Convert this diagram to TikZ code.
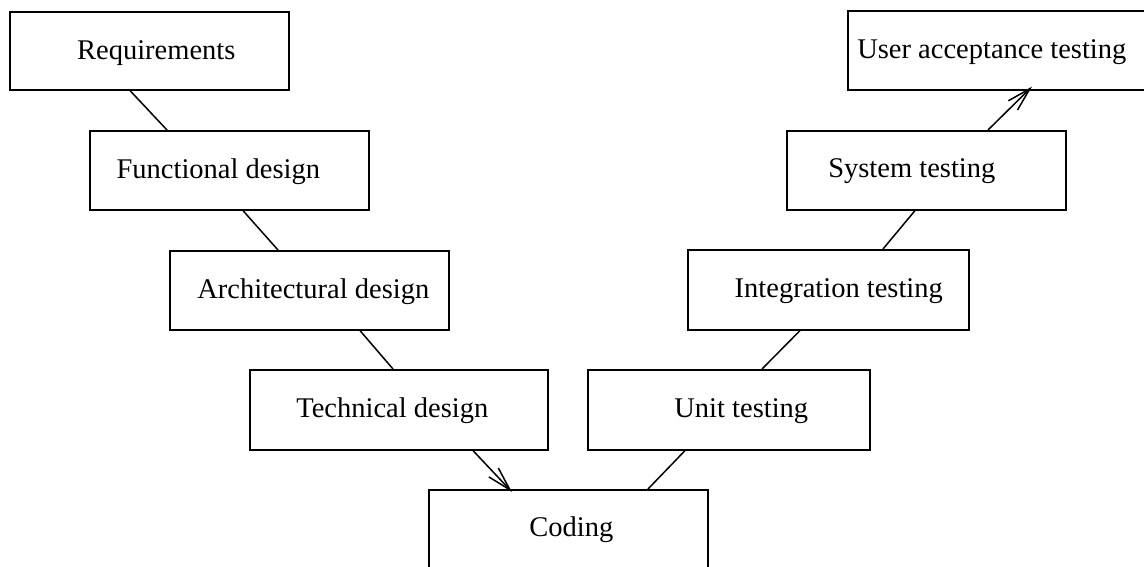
\documentclass[tikz,border=0pt]{standalone}
\usepackage{fontspec}
\setmainfont{Liberation Serif}
\usetikzlibrary{calc,arrows.meta}
\begin{document}
\begin{tikzpicture}[x=1pt,y=-1pt,
  stage/.style={draw, line width=1.6pt, inner sep=0pt, anchor=north west,
    minimum height=79pt, font=\fontsize{28.5}{34}\selectfont},
  link/.style={line width=1.5pt},
  flow/.style={line width=1.5pt, -{Straight Barb[length=24pt,width=13pt,line width=1.5pt]}}]
\useasboundingbox (0,0) rectangle (1144,567);
\clip (0,0) rectangle (1144,567);
\node[stage, minimum width=279pt, minimum height=78pt,
  label={[xshift=7pt,yshift=-2pt,font=\fontsize{28.5}{34}\selectfont]center:Requirements}] (req) at (9,11) {};
\node[stage, minimum width=279pt,
  label={[xshift=-11pt,yshift=-1pt,font=\fontsize{28.5}{34}\selectfont]center:Functional design}] (func) at (89,130) {};
\node[stage, minimum width=279pt,
  label={[xshift=4pt,yshift=-1pt,font=\fontsize{28.5}{34}\selectfont]center:Architectural design}] (arch) at (169,250) {};
\node[stage, minimum width=298pt, minimum height=80pt,
  label={[xshift=-6.5pt,yshift=-1pt,font=\fontsize{28.5}{34}\selectfont]center:Technical design}] (tech) at (249,369) {};
\node[stage, minimum width=279pt, minimum height=82pt,
  label={[xshift=3pt,yshift=1pt,font=\fontsize{28.5}{34}\selectfont]center:Coding}] (code) at (428,489) {};
\node[stage, minimum width=282pt, minimum height=80pt,
  label={[xshift=12.5pt,yshift=-1pt,font=\fontsize{28.5}{34}\selectfont]center:Unit testing}] (unit) at (587,369) {};
\node[stage, minimum width=281pt, minimum height=80pt,
  label={[xshift=10.5pt,yshift=-1pt,font=\fontsize{28.5}{34}\selectfont]center:Integration testing}] (integ) at (687,249) {};
\node[stage, minimum width=279pt,
  label={[xshift=-14.5pt,yshift=-1pt,font=\fontsize{28.5}{34}\selectfont]center:System testing}] (sys) at (786,130) {};
\node[stage, minimum width=310pt,
  label={[xshift=-11pt,yshift=-2pt,font=\fontsize{28.5}{34}\selectfont]center:User acceptance testing}] (uat) at (847,10) {};
% connector end points
\coordinate (a1) at ($(req.south west)+(121,0)$);
\coordinate (a2) at ($(func.north west)+(78,0)$);
\coordinate (b1) at ($(func.south west)+(154,0)$);
\coordinate (b2) at ($(arch.north west)+(109,0)$);
\coordinate (c1) at ($(arch.south west)+(191,0)$);
\coordinate (c2) at ($(tech.north west)+(144,0)$);
\coordinate (d1) at ($(tech.south west)+(224,0)$);
\coordinate (d2) at ($(code.north west)+(84,3)$);
\coordinate (e1) at ($(code.north west)+(220,0)$);
\coordinate (e2) at ($(unit.south west)+(98,0)$);
\coordinate (f1) at ($(unit.north west)+(175,0)$);
\coordinate (f2) at ($(integ.south west)+(113,0)$);
\coordinate (g1) at ($(integ.north west)+(196,0)$);
\coordinate (g2) at ($(sys.south west)+(129,0)$);
\coordinate (h1) at ($(sys.north west)+(202,0)$);
\coordinate (h2) at ($(uat.south west)+(185,-4)$);
\draw[link] (a1) -- (a2);
\draw[link] (b1) -- (b2);
\draw[link] (c1) -- (c2);
\draw[flow] (d1) -- (d2);
\draw[link] (e1) -- (e2);
\draw[link] (f1) -- (f2);
\draw[link] (g1) -- (g2);
\draw[flow] (h1) -- (h2);
\end{tikzpicture}
\end{document}
